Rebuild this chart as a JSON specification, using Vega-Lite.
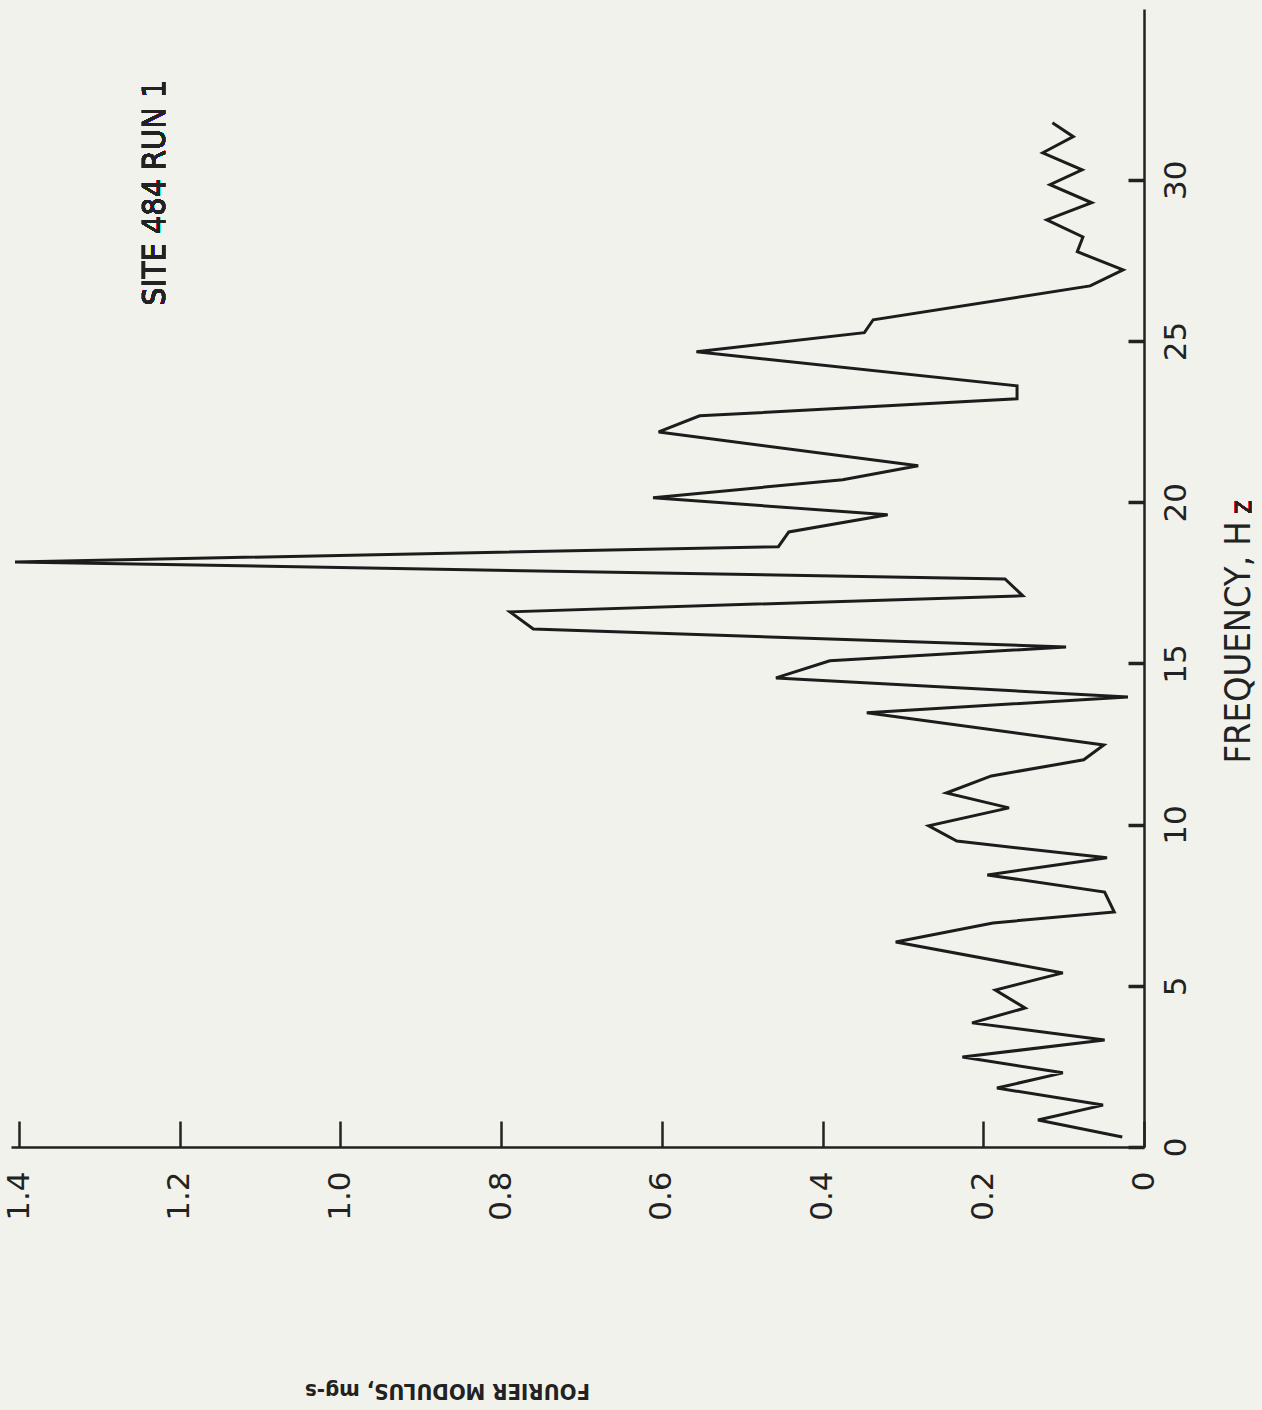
{
  "$schema": "https://vega.github.io/schema/vega-lite/v6.json",
  "width": 1133,
  "height": 1138,
  "autosize": {"type": "none"},
  "padding": {"left": 11, "top": 9, "right": 118, "bottom": 263},
  "background": "#f2f2ec",
  "config": {"view": {"stroke": null}, "axis": {"grid": false}},
  "data": {
    "values": [
      {"f": 0.31, "m": 0.027},
      {"f": 0.84, "m": 0.132},
      {"f": 1.30, "m": 0.051},
      {"f": 1.83, "m": 0.183},
      {"f": 2.30, "m": 0.101},
      {"f": 2.79, "m": 0.226},
      {"f": 3.32, "m": 0.049},
      {"f": 3.85, "m": 0.214},
      {"f": 4.31, "m": 0.148},
      {"f": 4.87, "m": 0.185},
      {"f": 5.40, "m": 0.101},
      {"f": 6.36, "m": 0.309},
      {"f": 6.95, "m": 0.188},
      {"f": 7.29, "m": 0.037},
      {"f": 7.91, "m": 0.049},
      {"f": 8.44, "m": 0.195},
      {"f": 8.97, "m": 0.046},
      {"f": 9.49, "m": 0.233},
      {"f": 9.96, "m": 0.268},
      {"f": 10.52, "m": 0.168},
      {"f": 10.98, "m": 0.246},
      {"f": 11.51, "m": 0.190},
      {"f": 12.01, "m": 0.075},
      {"f": 12.47, "m": 0.050},
      {"f": 13.47, "m": 0.345},
      {"f": 13.96, "m": 0.020},
      {"f": 14.55, "m": 0.458},
      {"f": 15.08, "m": 0.391},
      {"f": 15.51, "m": 0.097},
      {"f": 16.07, "m": 0.760},
      {"f": 16.60, "m": 0.789},
      {"f": 17.10, "m": 0.151},
      {"f": 17.62, "m": 0.173},
      {"f": 18.15, "m": 1.405},
      {"f": 18.62, "m": 0.455},
      {"f": 19.08, "m": 0.442},
      {"f": 19.61, "m": 0.319},
      {"f": 20.14, "m": 0.611},
      {"f": 20.70, "m": 0.375},
      {"f": 21.13, "m": 0.281},
      {"f": 22.18, "m": 0.604},
      {"f": 22.68, "m": 0.553},
      {"f": 23.21, "m": 0.158},
      {"f": 23.61, "m": 0.158},
      {"f": 24.67, "m": 0.557},
      {"f": 25.26, "m": 0.348},
      {"f": 25.66, "m": 0.337},
      {"f": 26.71, "m": 0.067},
      {"f": 27.21, "m": 0.026},
      {"f": 27.77, "m": 0.083},
      {"f": 28.23, "m": 0.076},
      {"f": 28.76, "m": 0.121},
      {"f": 29.29, "m": 0.065},
      {"f": 29.85, "m": 0.117},
      {"f": 30.31, "m": 0.077},
      {"f": 30.84, "m": 0.126},
      {"f": 31.34, "m": 0.088},
      {"f": 31.77, "m": 0.114}
    ]
  },
  "layer": [
    {
      "mark": {"type": "line", "color": "#1c1c1c", "strokeWidth": 3},
      "encoding": {
        "x": {
          "field": "m",
          "type": "quantitative",
          "scale": {"domain": [0, 1.41], "reverse": true, "nice": false, "zero": false},
          "axis": {
            "orient": "bottom",
            "values": [0, 0.2, 0.4, 0.6, 0.8, 1.0, 1.2, 1.4],
            "labelExpr": "datum.value == 0 ? '0' : format(datum.value, '.1f')",
            "labelAngle": 270,
            "labelAlign": "right",
            "labelBaseline": "middle",
            "labelFont": "DejaVu Sans",
            "labelFontSize": 31,
            "labelColor": "#222222",
            "labelPadding": 50,
            "labelFlush": false,
            "labelOverlap": false,
            "tickSize": -26,
            "tickWidth": 2.5,
            "tickColor": "#222222",
            "domainColor": "#222222",
            "domainWidth": 2.5,
            "title": "FOURIER MODULUS, mg-s",
            "titleAngle": 180,
            "titleX": 436,
            "titleY": 243,
            "titleAlign": "center",
            "titleBaseline": "middle",
            "titleFont": "'Liberation Sans Narrow', 'DejaVu Sans Condensed', sans-serif",
            "titleFontSize": 22,
            "titleFontWeight": "bold",
            "titleColor": "#222222"
          }
        },
        "y": {
          "field": "f",
          "type": "quantitative",
          "scale": {"domain": [0, 35.3], "nice": false, "zero": false},
          "axis": {
            "orient": "right",
            "values": [0, 5, 10, 15, 20, 25, 30],
            "format": "d",
            "labelAngle": 270,
            "labelAlign": "center",
            "labelBaseline": "top",
            "labelFont": "DejaVu Sans",
            "labelFontSize": 31,
            "labelColor": "#222222",
            "labelPadding": 33,
            "labelFlush": false,
            "labelOverlap": false,
            "tickSize": -16,
            "tickWidth": 3.5,
            "tickColor": "#222222",
            "domainColor": "#222222",
            "domainWidth": 2.5,
            "title": "FREQUENCY, H",
            "titleAngle": 270,
            "titleX": 94,
            "titleY": 633,
            "titleAlign": "center",
            "titleBaseline": "middle",
            "titleFont": "'Liberation Sans Narrow', 'DejaVu Sans Condensed', sans-serif",
            "titleFontSize": 36,
            "titleFontWeight": "normal",
            "titleColor": "#222222"
          }
        },
        "order": {"field": "f", "type": "quantitative"}
      }
    },
    {
      "mark": {
        "type": "text",
        "text": "SITE 484 RUN 1",
        "angle": 270,
        "align": "center",
        "baseline": "middle",
        "font": "'Liberation Sans Narrow', 'DejaVu Sans Condensed', sans-serif",
        "fontSize": 32,
        "color": "#222222"
      },
      "encoding": {
        "x": {"datum": 1.231, "type": "quantitative"},
        "y": {"datum": 29.6, "type": "quantitative"}
      }
    },
    {
      "mark": {
        "type": "text",
        "text": "Z",
        "angle": 270,
        "align": "center",
        "baseline": "middle",
        "font": "'Liberation Sans Narrow', 'DejaVu Sans Condensed', sans-serif",
        "fontSize": 22,
        "color": "#222222"
      },
      "encoding": {
        "x": {"datum": -0.1244, "type": "quantitative"},
        "y": {"datum": 19.85, "type": "quantitative"}
      }
    }
  ]
}
